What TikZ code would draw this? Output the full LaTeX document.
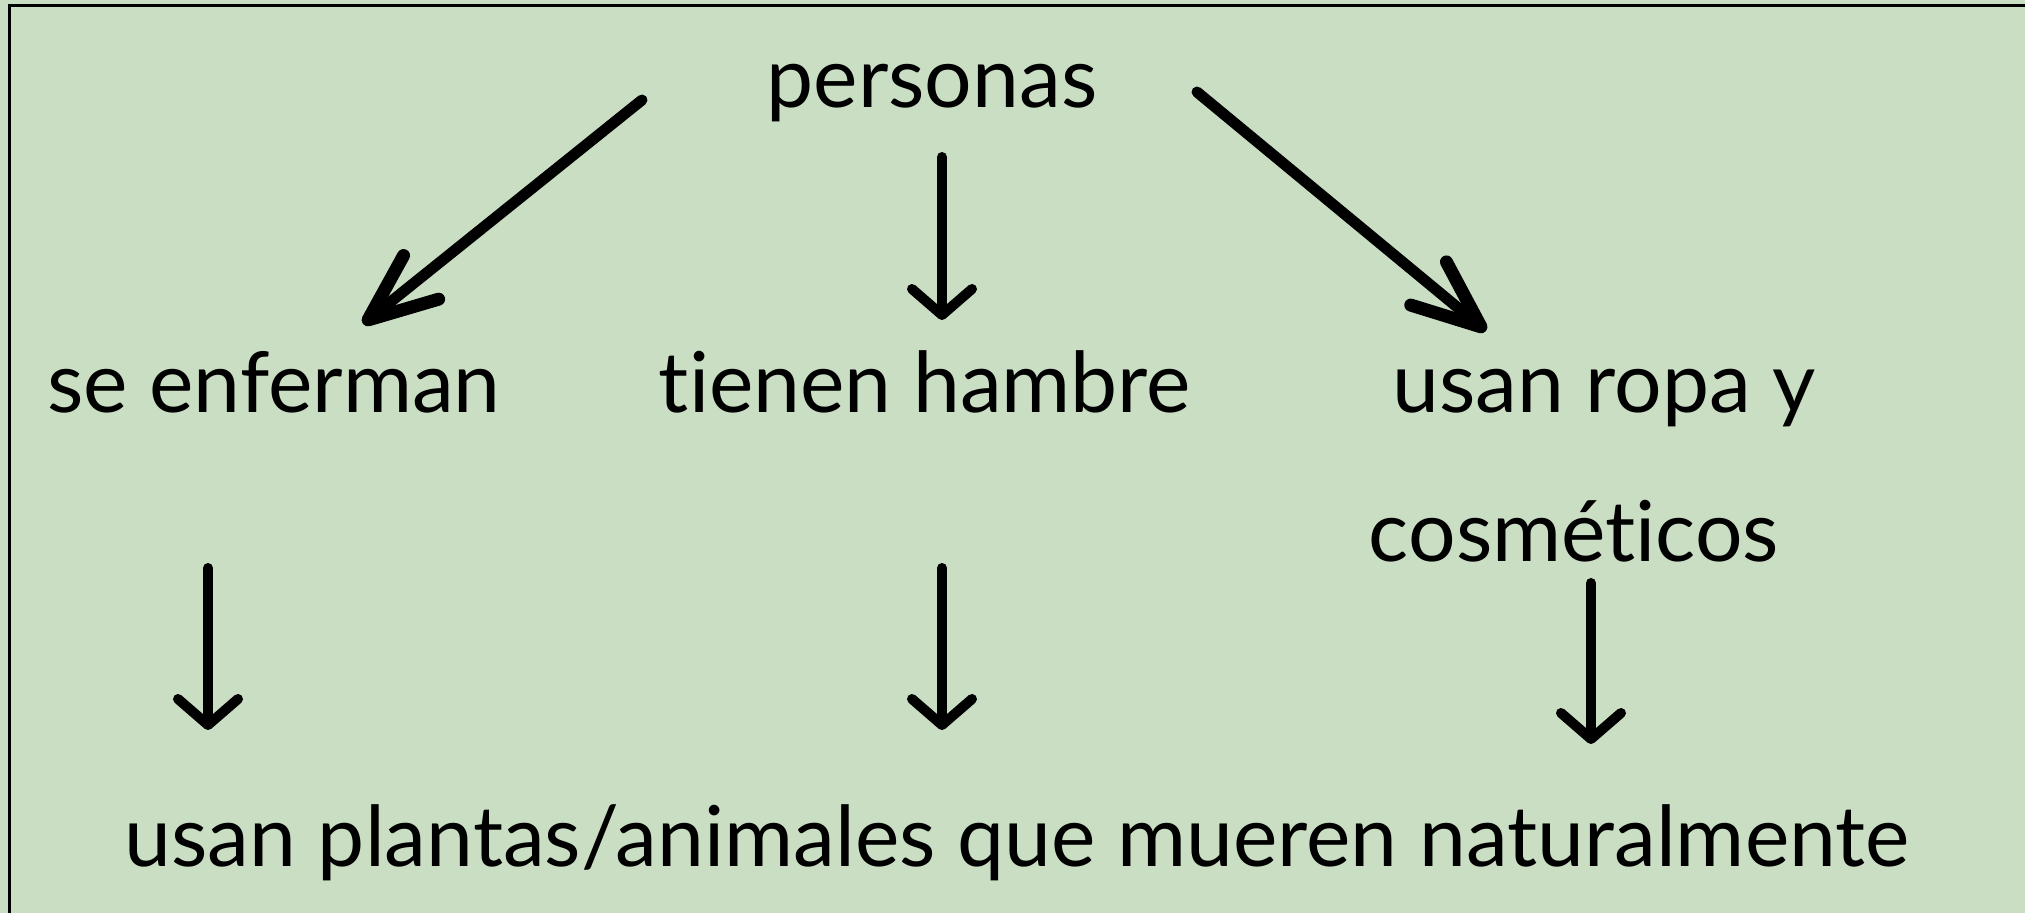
\documentclass[tikz,border=0pt]{standalone}
\usepackage{fontspec}
\setmainfont{Lato}[Ligatures=NoCommon]
\usetikzlibrary{arrows.meta}
\definecolor{bg}{RGB}{202,222,196}
\tikzset{
  lbl/.style={anchor=base, inner sep=0pt, font=\fontsize{42}{50}\selectfont},
  arrv/.style={line width=5pt, line cap=round, -{Straight Barb[length=13pt, width=30pt, round]}},
  arrd/.style={line width=5.5pt, line cap=round, -{Straight Barb[length=34pt, width=28pt, round, line width=6.5pt]}},
}
\begin{document}
\begin{tikzpicture}[x=0.5pt, y=-0.5pt]
\useasboundingbox (0,0) rectangle (2025,913);
\fill[bg] (0,0) rectangle (2025,913);
\begin{scope}
\clip (0,0) rectangle (2025,913);
\draw[line width=1.35pt, black] (9.5,5.5) rectangle (2100,1000);
\end{scope}
\node[lbl] (personas) at (932,108) {personas};
\node[lbl] (enferman) at (274,413) {se enferman};
\node[lbl] (hambre) at (925,413) {tienen hambre};
\node[lbl] (ropa) at (1604,413) {usan ropa y};
\node[lbl] (cosm) at (1574,562) {cosméticos};
\node[lbl] (plantas) at (1017,867) {usan plantas/animales que mueren naturalmente};
\coordinate (a1s) at (642,100);
\coordinate (a1e) at (363,324);
\coordinate (a2s) at (942,157);
\coordinate (a2e) at (942,320);
\coordinate (a3s) at (1197,92);
\coordinate (a3e) at (1486,331);
\coordinate (b1s) at (208,568);
\coordinate (b1e) at (208,730);
\coordinate (b2s) at (942,568);
\coordinate (b2e) at (942,730);
\coordinate (b3s) at (1591,583);
\coordinate (b3e) at (1591,744);
\draw[arrd] (a1s) -- (a1e);
\draw[arrv] (a2s) -- (a2e);
\draw[arrd] (a3s) -- (a3e);
\draw[arrv] (b1s) -- (b1e);
\draw[arrv] (b2s) -- (b2e);
\draw[arrv] (b3s) -- (b3e);
\end{tikzpicture}
\end{document}
